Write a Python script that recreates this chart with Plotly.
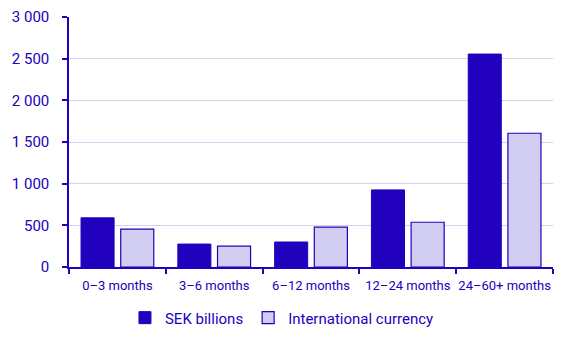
import plotly.graph_objects as go

categories = ["0\u20133 months", "3\u20136 months", "6\u201312 months", "12\u201324 months", "24\u201360+ months"]
sek_billions = [590, 275, 300, 925, 2555]
international_currency = [455, 250, 478, 537, 1605]
y_ticks = [0, 500, 1000, 1500, 2000, 2500, 3000]

blue = "#2100BE"
lavender = "#D2CEF1"
grid = "#D4D0F0"

fig = go.Figure()
fig.add_bar(x=categories, y=sek_billions, name="SEK billions",
            marker=dict(color=blue, line=dict(color=blue, width=1)))
fig.add_bar(x=categories, y=international_currency, name="International currency",
            marker=dict(color=lavender, line=dict(color=blue, width=1.2)))

fig.update_layout(
    width=568, height=340,
    margin=dict(l=69, r=15, t=17, b=73, autoexpand=False),
    plot_bgcolor="white", paper_bgcolor="white",
    barmode="group", bargap=0.18, bargroupgap=0.167,
    separators=". ",
    font=dict(family="Roboto", color=blue),
    legend=dict(orientation="h", x=0.44, xanchor="center",
                yref="container", y=0.065, yanchor="middle",
                font=dict(size=15, color=blue), traceorder="normal",
                itemwidth=30, tracegroupgap=0),
    showlegend=True,
)
fig.update_xaxes(
    showline=True, linecolor=blue, linewidth=1.5,
    ticks="outside", tickson="boundaries", ticklen=5, tickcolor=blue, tickwidth=1.5,
    tickangle=0, ticklabelstandoff=6,
    tickfont=dict(size=13, color=blue), showgrid=False, automargin=False,
)
fig.update_yaxes(
    range=[0, 3000], tickvals=y_ticks, tickformat=",d",
    showline=True, linecolor=blue, linewidth=1.5,
    ticks="outside", ticklen=5, tickcolor=blue, tickwidth=1.5,
    ticklabelstandoff=10,
    showgrid=True, gridcolor=grid, gridwidth=1,
    tickfont=dict(size=15, color=blue), zeroline=False, automargin=False,
)

fig.write_html("out.html")
